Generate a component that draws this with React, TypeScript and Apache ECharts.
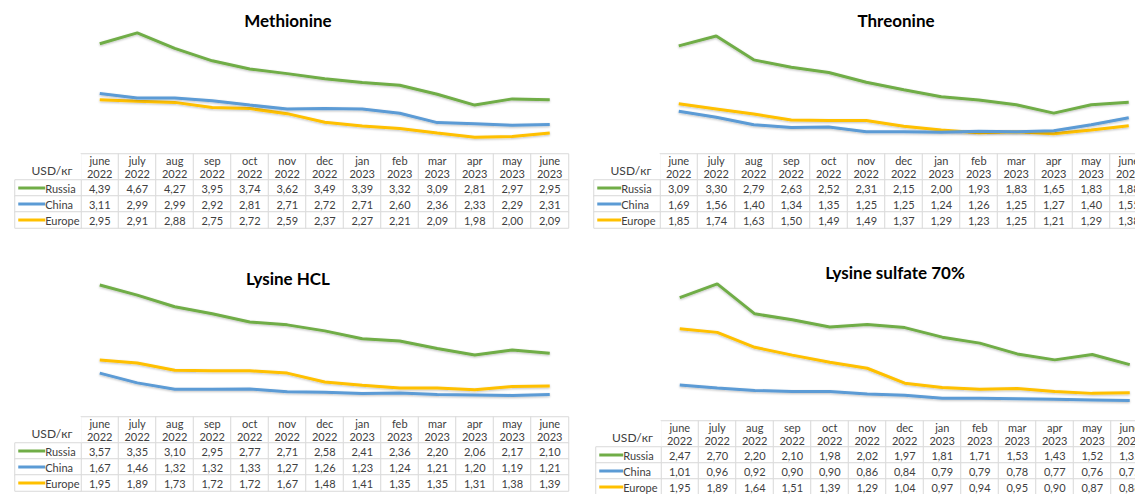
import React, { useEffect, useRef } from "react";
import * as echarts from "echarts";

const months = ["june", "july", "aug", "sep", "oct", "nov", "dec", "jan", "feb", "mar", "apr", "may", "june"];
const years = ["2022", "2022", "2022", "2022", "2022", "2022", "2022", "2023", "2023", "2023", "2023", "2023", "2023"];
const seriesNames = ["Russia", "China", "Europe"];
const unitLabel = "USD/кг";

const methRussia = [4.39, 4.67, 4.27, 3.95, 3.74, 3.62, 3.49, 3.39, 3.32, 3.09, 2.81, 2.97, 2.95];
const methChina = [3.11, 2.99, 2.99, 2.92, 2.81, 2.71, 2.72, 2.71, 2.6, 2.36, 2.33, 2.29, 2.31];
const methEurope = [2.95, 2.91, 2.88, 2.75, 2.72, 2.59, 2.37, 2.27, 2.21, 2.09, 1.98, 2.0, 2.09];

const thrRussia = [3.09, 3.3, 2.79, 2.63, 2.52, 2.31, 2.15, 2.0, 1.93, 1.83, 1.65, 1.83, 1.88];
const thrChina = [1.69, 1.56, 1.4, 1.34, 1.35, 1.25, 1.25, 1.24, 1.26, 1.25, 1.27, 1.4, 1.55];
const thrEurope = [1.85, 1.74, 1.63, 1.5, 1.49, 1.49, 1.37, 1.29, 1.23, 1.25, 1.21, 1.29, 1.38];

const lysRussia = [3.57, 3.35, 3.1, 2.95, 2.77, 2.71, 2.58, 2.41, 2.36, 2.2, 2.06, 2.17, 2.1];
const lysChina = [1.67, 1.46, 1.32, 1.32, 1.33, 1.27, 1.26, 1.23, 1.24, 1.21, 1.2, 1.19, 1.21];
const lysEurope = [1.95, 1.89, 1.73, 1.72, 1.72, 1.67, 1.48, 1.41, 1.35, 1.35, 1.31, 1.38, 1.39];

const sulRussia = [2.47, 2.7, 2.2, 2.1, 1.98, 2.02, 1.97, 1.81, 1.71, 1.53, 1.43, 1.52, 1.35];
const sulChina = [1.01, 0.96, 0.92, 0.9, 0.9, 0.86, 0.84, 0.79, 0.79, 0.78, 0.77, 0.76, 0.75];
const sulEurope = [1.95, 1.89, 1.64, 1.51, 1.39, 1.29, 1.04, 0.97, 0.94, 0.95, 0.9, 0.87, 0.88];

const COLORS = ["#70AD47", "#5B9BD5", "#FFC000"];
const FONT = "Lato, 'Open Sans', sans-serif";
const TEXT = "#404040";
const BORDER = "#d9d9d9";
const CW = 37.5;

const panels = [
  { title: "Methionine", data: [methRussia, methChina, methEurope], titleX: 288, titleY: 20, colX: 81, labelX: 15, swatch: 27, lineTop: 20, lineH: 136, yMin: 1.5, yMax: 5, headTop: 154, bodyTop: 180 },
  { title: "Threonine", data: [thrRussia, thrChina, thrEurope], titleX: 896, titleY: 20, colX: 660, labelX: 594, swatch: 24, lineTop: 26.7, lineH: 116.75, yMin: 1, yMax: 3.5, headTop: 154, bodyTop: 180 },
  { title: "Lysine HCL", data: [lysRussia, lysChina, lysEurope], titleX: 288, titleY: 278, colX: 81, labelX: 15, swatch: 27, lineTop: 265, lineH: 139.2, yMin: 1, yMax: 4, headTop: 417, bodyTop: 443 },
  { title: "Lysine sulfate 70%", data: [sulRussia, sulChina, sulEurope], titleX: 895, titleY: 272, colX: 661, labelX: 596, swatch: 24, lineTop: 266, lineH: 149.5, yMin: 0.5, yMax: 3, headTop: 421, bodyTop: 447 },
];

const fmt = (v: number) => v.toFixed(2).replace(".", ",");

function buildOption() {
  const grid: any[] = [];
  const xAxis: any[] = [];
  const yAxis: any[] = [];
  const series: any[] = [];
  const graphic: any[] = [];
  const heatIdx: number[] = [];
  const cats = months.map((m, i) => m + "\n" + years[i]);
  const W = CW * months.length;

  const cellStyle = { borderColor: BORDER, borderWidth: 1 };
  const labelBase = { show: true, fontSize: 11, color: TEXT, fontFamily: FONT };
  const G = (o: any) => ({ ...o, outerBoundsMode: "none", containLabel: false });

  panels.forEach((p) => {
    const g = grid.length;
    const labW = p.colX - p.labelX;
    grid.push(G({ left: p.colX, top: p.lineTop, width: W, height: p.lineH }));
    grid.push(G({ left: p.colX, top: p.headTop, width: W, height: 26 }));
    grid.push(G({ left: p.colX, top: p.bodyTop, width: W, height: 48 }));
    grid.push(G({ left: p.labelX, top: p.headTop, width: labW, height: 26 }));
    grid.push(G({ left: p.labelX, top: p.bodyTop, width: labW, height: 48 }));

    xAxis.push({ type: "category", gridIndex: g, data: cats, boundaryGap: true, show: false });
    xAxis.push({ type: "category", gridIndex: g + 1, data: cats, show: false });
    xAxis.push({ type: "category", gridIndex: g + 2, data: cats, show: false });
    xAxis.push({ type: "category", gridIndex: g + 3, data: ["l"], show: false });
    xAxis.push({ type: "category", gridIndex: g + 4, data: ["l"], show: false });

    yAxis.push({ type: "value", gridIndex: g, min: p.yMin, max: p.yMax, show: false, splitLine: { show: false } });
    yAxis.push({ type: "category", gridIndex: g + 1, data: ["h"], show: false });
    yAxis.push({ type: "category", gridIndex: g + 2, data: seriesNames, inverse: true, show: false });
    yAxis.push({ type: "category", gridIndex: g + 3, data: ["h"], show: false });
    yAxis.push({ type: "category", gridIndex: g + 4, data: seriesNames, inverse: true, show: false });

    p.data.forEach((arr, k) => {
      series.push({
        type: "line",
        name: seriesNames[k],
        xAxisIndex: g,
        yAxisIndex: g,
        data: arr,
        symbol: "none",
        clip: false,
        lineStyle: { color: COLORS[k], width: 3, shadowColor: "rgba(0,0,0,0.25)", shadowBlur: 2, shadowOffsetY: 1 },
        itemStyle: { color: COLORS[k] },
        z: 3 - k,
      });
    });

    heatIdx.push(series.length);
    series.push({
      type: "heatmap",
      xAxisIndex: g + 1,
      yAxisIndex: g + 1,
      data: months.map((_, c) => [c, 0, c]),
      itemStyle: cellStyle,
      label: { ...labelBase, lineHeight: 13, formatter: (q: any) => cats[q.value[0]] },
      emphasis: { disabled: true },
    });

    const body: any[] = [];
    p.data.forEach((arr, r) => arr.forEach((v, c) => body.push([c, r, v])));
    heatIdx.push(series.length);
    series.push({
      type: "heatmap",
      xAxisIndex: g + 2,
      yAxisIndex: g + 2,
      data: body,
      itemStyle: cellStyle,
      label: { ...labelBase, formatter: (q: any) => fmt(q.value[2]) },
      emphasis: { disabled: true },
    });

    heatIdx.push(series.length);
    series.push({
      type: "heatmap",
      xAxisIndex: g + 3,
      yAxisIndex: g + 3,
      data: [[0, 0, 0]],
      itemStyle: { borderWidth: 0 },
      label: { ...labelBase, fontSize: 12, offset: [4, 3], formatter: () => unitLabel },
      emphasis: { disabled: true },
    });

    const rich: any = { t: { fontSize: 11, color: TEXT, fontFamily: FONT } };
    COLORS.forEach((c, k) => {
      rich["s" + k] = { width: p.swatch, height: 3, backgroundColor: c, verticalAlign: "middle" };
    });
    heatIdx.push(series.length);
    series.push({
      type: "heatmap",
      xAxisIndex: g + 4,
      yAxisIndex: g + 4,
      data: seriesNames.map((_, r) => [0, r, r]),
      itemStyle: cellStyle,
      label: {
        ...labelBase,
        position: "insideLeft",
        distance: 4,
        rich,
        formatter: (q: any) => `{s${q.value[1]}|}{t|${seriesNames[q.value[1]]}}`,
      },
      emphasis: { disabled: true },
    });

    graphic.push({
      type: "text",
      x: p.titleX,
      y: p.titleY,
      style: { text: p.title, font: `bold 17px ${FONT}`, fill: "#000", align: "center", verticalAlign: "middle" },
    });
  });

  return {
    animation: false,
    backgroundColor: "#ffffff",
    grid,
    xAxis,
    yAxis,
    visualMap: {
      show: false,
      type: "continuous",
      seriesIndex: heatIdx,
      dimension: 2,
      min: -1000,
      max: 1000,
      inRange: { color: ["#ffffff", "#ffffff"] },
    },
    series,
    graphic,
  };
}

export default function App() {
  const ref = useRef<HTMLDivElement>(null);
  useEffect(() => {
    if (!ref.current) return;
    const chart = echarts.init(ref.current, undefined, { renderer: "svg" });
    chart.setOption(buildOption() as any);
    return () => chart.dispose();
  }, []);
  return (
    <div
      ref={ref}
      style={{ position: "fixed", left: 0, top: 0, width: 1135, height: 494, background: "#fff" }}
    />
  );
}
